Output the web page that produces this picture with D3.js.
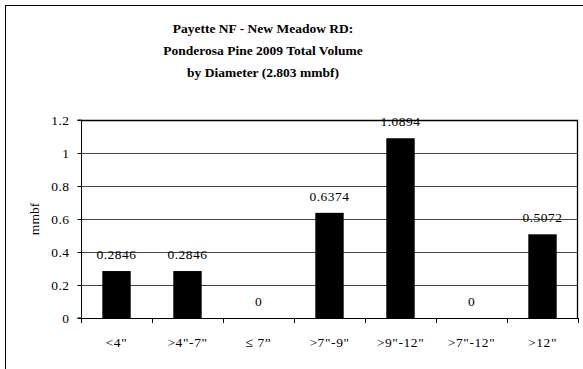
<!DOCTYPE html>
<html><head><meta charset="utf-8">
<script src="https://cdn.jsdelivr.net/npm/d3@7"></script>
<style>
html,body{margin:0;padding:0;background:#fff;}
svg{display:block;font-family:"Liberation Serif","Times New Roman",serif;}
</style></head>
<body>
<svg id="chart" width="583" height="369"></svg>
<script>
const categories = ['<4"', '>4"-7"', '\u2264 7\u201d', '>7"-9"', '>9"-12"', '>7"-12"', '>12"'];
const values = [0.2846, 0.2846, 0, 0.6374, 1.0894, 0, 0.5072];
const valueLabels = ["0.2846", "0.2846", "0", "0.6374", "1.0894", "0", "0.5072"];
const yTicks = [0, 0.2, 0.4, 0.6, 0.8, 1, 1.2];
const titleLines = ["Payette NF - New Meadow RD:", "Ponderosa Pine 2009 Total Volume", "by Diameter (2.803 mmbf)"];
const yAxisTitle = "mmbf";

(function () {
const svg = d3.select("#chart");
const pL = 81, pR = 578, pT = 120, pB = 318;

svg.append("rect").attr("x", 5.5).attr("y", 5.5).attr("width", 600).attr("height", 400)
  .attr("fill", "none").attr("stroke", "#000").attr("stroke-width", 1);

const x = d3.scaleBand().domain(categories).range([pL, pR]).paddingInner(0.6).paddingOuter(0.3);
const xb = d3.scaleBand().domain(categories).range([pL, pR]);
const y = d3.scaleLinear().domain([0, 1.2]).range([pB, pT]);

svg.append("g").selectAll("line").data(yTicks.filter(d => d > 0 && d < 1.2)).join("line")
  .attr("x1", pL).attr("x2", pR).attr("y1", d => Math.round(y(d)) + 0.5).attr("y2", d => Math.round(y(d)) + 0.5)
  .attr("stroke", "#444").attr("stroke-width", 1);

svg.append("path")
  .attr("d", `M${pL},${pT + 0.5}H${pR - 0.5}V${pB}`)
  .attr("fill", "none").attr("stroke", "#000").attr("stroke-width", 1.3);

svg.append("g").selectAll("rect").data(values).join("rect")
  .attr("x", (d, i) => x(categories[i]))
  .attr("width", x.bandwidth())
  .attr("y", d => y(d))
  .attr("height", d => y(0) - y(d))
  .attr("fill", "#000");

const yAxis = d3.axisLeft(y).tickValues(yTicks).tickSize(4).tickPadding(8).tickFormat(d => d3.format("")(d));
const gy = svg.append("g").attr("transform", `translate(${pL + 0.5},0)`).call(yAxis);
gy.select(".domain").attr("d", `M-4,${pT}H0V${pB}H-4`).attr("stroke", "#000");
gy.selectAll(".tick line").attr("stroke", "#000");
gy.selectAll(".tick text").attr("font-size", 13.5).attr("font-family", "Liberation Serif").attr("fill", "#000")
  .attr("letter-spacing", 0.5);
gy.selectAll(".tick").attr("transform", d => `translate(0,${Math.round(y(d)) + 0.5})`);

const xAxis = d3.axisBottom(xb).tickSize(0).tickPadding(19);
const gx = svg.append("g").attr("transform", `translate(0,${pB + 0.5})`).call(xAxis);
gx.select(".domain").attr("d", `M${pL},0H${pR}`).attr("stroke", "#000");
gx.selectAll(".tick text").attr("font-size", 13.5).attr("font-family", "Liberation Serif").attr("fill", "#000")
  .attr("letter-spacing", 0.6);
svg.append("g").selectAll("line").data(d3.range(categories.length + 1)).join("line")
  .attr("x1", i => Math.round(pL + i * xb.step()) + 0.5).attr("x2", i => Math.round(pL + i * xb.step()) + 0.5)
  .attr("y1", pB).attr("y2", pB + 5).attr("stroke", "#000");

svg.append("g").selectAll("text").data(values).join("text")
  .attr("x", (d, i) => x(categories[i]) + x.bandwidth() / 2)
  .attr("y", d => y(d) - 12)
  .attr("text-anchor", "middle").attr("font-size", 13.5).attr("fill", "#000")
  .attr("letter-spacing", 0.5)
  .text((d, i) => valueLabels[i]);

svg.append("text").attr("transform", `translate(39,${(pT + pB) / 2}) rotate(-90)`)
  .attr("text-anchor", "middle").attr("font-size", 13.5).attr("fill", "#000").text(yAxisTitle);

svg.append("g").selectAll("text").data(titleLines).join("text")
  .attr("x", 263).attr("y", (d, i) => 33 + i * 22)
  .attr("text-anchor", "middle").attr("font-size", 13.5).attr("font-weight", "bold").attr("fill", "#000")
  .text(d => d);
})();
</script>
</body></html>
